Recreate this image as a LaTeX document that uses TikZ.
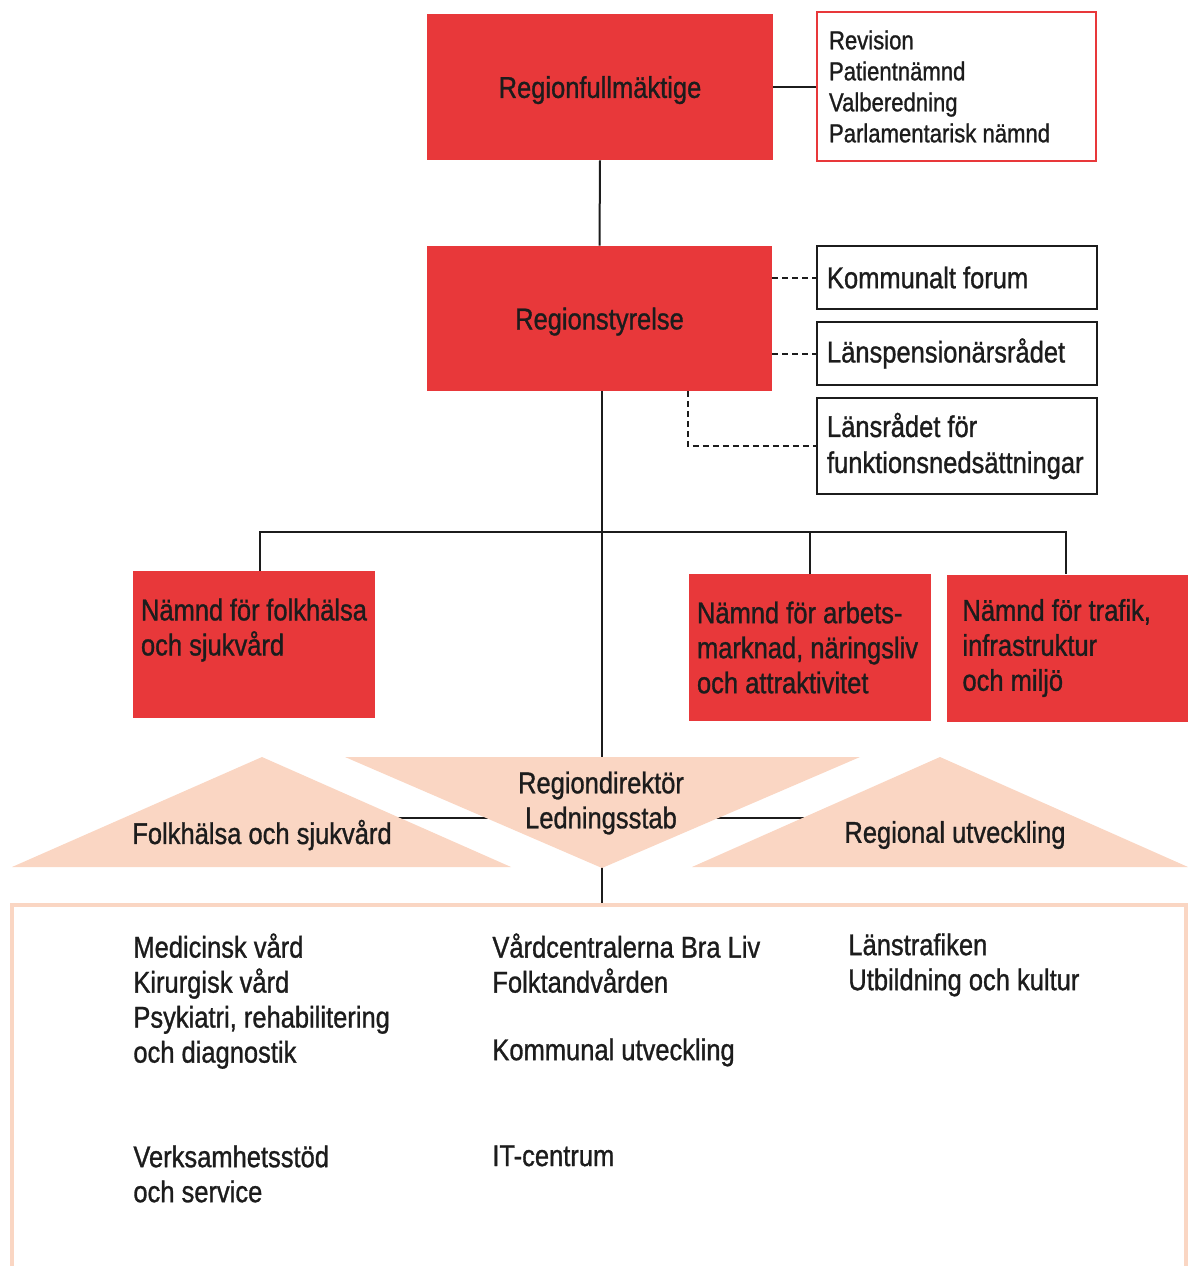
\documentclass[tikz,border=0pt]{standalone}
\usepackage{fontspec}
\setmainfont{Liberation Sans}[FakeStretch=0.85,FakeBold=1.0]
\usetikzlibrary{positioning}
\definecolor{rRed}{RGB}{232,56,58}
\definecolor{rPeach}{RGB}{250,214,195}
\definecolor{rInk}{RGB}{28,28,28}
\tikzset{
    redbox/.style={rectangle, fill=rRed, text=rInk, inner sep=0pt, font=\fontsize{15}{17.5}\selectfont},
    unitbox/.style={redbox, align=flush left, minimum height=73.5pt, inner xsep=4pt, text width=113pt},
    sidebox/.style={rectangle, draw=rInk, line width=1.2pt, fill=white, text=rInk, align=flush left, inner xsep=5pt, text width=130pt, font=\fontsize{15}{18}\selectfont},
    listbox/.style={rectangle, draw=rRed, line width=1pt, fill=white, text=rInk, align=flush left, inner xsep=6pt, text width=127.5pt, minimum height=74.5pt, font=\fontsize{13}{15.5}\selectfont},
    lbl/.style={text=rInk, inner sep=0pt, font=\fontsize{15}{17.5}\selectfont},
    link/.style={draw=rInk, line width=1pt},
    dlink/.style={link, dash pattern=on 3pt off 2pt}
}

\begin{document}
\begin{tikzpicture}[x=0.5pt,y=-0.5pt]
\useasboundingbox (0,0) rectangle (1188,1266);
\node[redbox, text depth=0pt, minimum width=173pt, minimum height=73pt] (rf) at (600,87) {Regionfullmäktige};
\node[listbox] (rev) at (956.5,86.5) {Revision\\Patientnämnd\\Valberedning\\Parlamentarisk nämnd};
\node[redbox, text depth=0pt, minimum width=172.5pt, minimum height=72.5pt] (rs) at (599.5,318.5) {Regionstyrelse};
\node[sidebox, minimum height=31.5pt] (kf) at (957,277.5) {Kommunalt forum};
\node[sidebox, minimum height=31.5pt] (lpr) at (957,353.5) {Länspensionärsrådet};
\node[sidebox, minimum height=48pt] (lrf) at (957,446) {Länsrådet för\\funktionsnedsättningar};
\node[unitbox] (nfs) at (254,644.5) {Nämnd för folkhälsa\\och sjukvård\\\mbox{}};
\node[unitbox] (nam) at (810,647.5) {Nämnd för arbets-\\marknad, näringsliv\\och attraktivitet};
\node[unitbox, inner xsep=8pt, text width=105pt] (ntm) at (1067.5,648) {Nämnd för trafik,\\infrastruktur\\och miljö};
\coordinate (bus) at (602,532);
\coordinate (dtop) at (602,757);
\coordinate (dtip) at (602,868);
\coordinate (base) at (602,905);
\coordinate (fhs) at (262,818);
\coordinate (reg) at (940,818);
\draw[link] (rf.south) -- (rs.north);
\draw[link] (rf.east |- rev.west) -- (rev.west);
\draw[dlink] (rs.east |- kf.west) -- (kf.west);
\draw[dlink] (rs.east |- lpr.west) -- (lpr.west);
\draw[dlink] ([xshift=44pt]rs.south) |- (lrf.west);
\draw[link] (rs.south -| base) -- (base);
\draw[link] ([xshift=3pt]nfs.north) |- (bus) -| ([xshift=-0.75pt]ntm.north);
\draw[link] (nam.north) -- (nam.north |- bus);
\draw[link] (fhs) -- (reg);
\fill[rPeach] (12,867) -- (262,757) -- (511,867) -- cycle;
\fill[rPeach] (345,757) -- (860,757) -- (dtip) -- cycle;
\fill[rPeach] (692,867) -- (940,757) -- (1188,867) -- cycle;
\draw[rPeach, line width=2pt] (12,1266) -- (12,905) -- (1186,905) -- (1186,1266);
\node[lbl] (fs) at (262,835) {Folkhälsa och sjukvård};
\node[lbl, align=center] (rd) at (601,803) {Regiondirektör\\Ledningsstab};
\node[lbl] (ru) at (955,835) {Regional utveckling};
\node[lbl, align=left, anchor=north west] (med) at (133,933) {Medicinsk vård\\Kirurgisk vård\\Psykiatri, rehabilitering\\och diagnostik};
\node[lbl, align=left, anchor=north west] (vss) at (133,1145) {Verksamhetsstöd\\och service};
\node[lbl, align=left, anchor=north west] (vcb) at (492,933) {Vårdcentralerna Bra Liv\\Folktandvården};
\node[lbl, align=left, anchor=north west] (kom) at (492,1038) {Kommunal utveckling};
\node[lbl, align=left, anchor=north west] (itc) at (492,1145) {IT-centrum};
\node[lbl, align=left, anchor=north west] (lst) at (848,933) {Länstrafiken\\Utbildning och kultur};
\end{tikzpicture}
\end{document}
